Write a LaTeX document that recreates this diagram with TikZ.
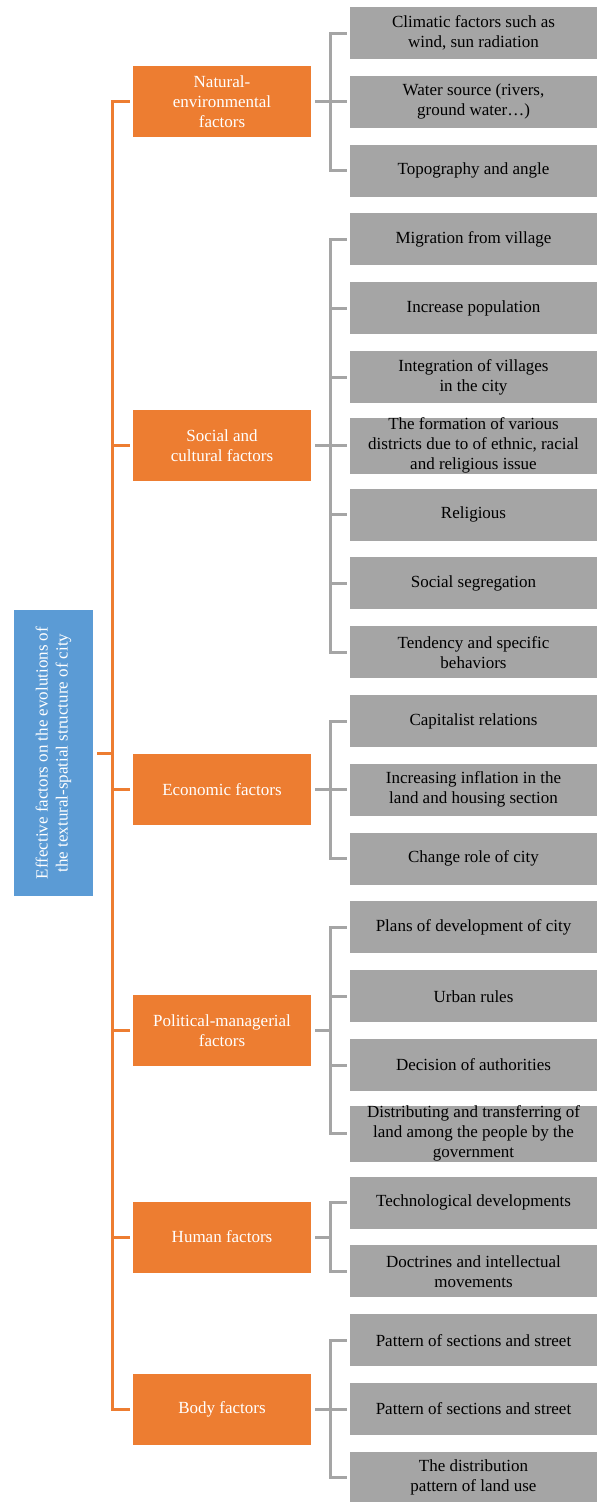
\documentclass[tikz,border=0pt]{standalone}
\usepackage{fontspec}
\setmainfont{Liberation Serif}
\definecolor{rootblue}{HTML}{5B9BD5}
\definecolor{factororange}{HTML}{ED7D31}
\definecolor{itemgray}{HTML}{A5A5A5}
\tikzset{
  boxfont/.style={font=\fontsize{17pt}{20pt}\selectfont},
  rootbox/.style={boxfont, fill=rootblue, text=white, minimum width=286pt, minimum height=79pt, align=center, inner sep=0pt},
  factorbox/.style={boxfont, fill=factororange, text=white, minimum width=178pt, minimum height=71pt, align=center, inner sep=0pt},
  itembox/.style={boxfont, fill=itemgray, text=black, minimum width=247pt, minimum height=52pt, align=center, inner sep=0pt},
  spine/.style={draw=factororange, line width=3pt},
  twig/.style={draw=itemgray, line width=3pt}
}
\begin{document}
\begin{tikzpicture}[x=1pt, y=-1pt]
    \useasboundingbox (0,0) rectangle (597,1502);
    % root
    \node [rootbox, rotate=90] (root) at (53.5,753) {Effective factors on the evolutions of\\the textural-spatial structure of city};
    % factors
    \node [factorbox] (natural) at (222,101.8) {Natural-\\environmental\\factors};
    \node [factorbox] (social) at (222,445.8) {Social and\\cultural factors};
    \node [factorbox] (economic) at (222,789.8) {Economic factors};
    \node [factorbox] (political) at (222,1030.6) {Political-managerial\\factors};
    \node [factorbox] (human) at (222,1237) {Human factors};
    \node [factorbox] (body) at (222,1409) {Body factors};
    % items
    \node [itembox] (nat1) at (473.5,33) {Climatic factors such as\\wind, sun radiation};
    \node [itembox] (nat2) at (473.5,101.8) {Water source (rivers,\\ground water\ldots)};
    \node [itembox] (nat3) at (473.5,170.6) {Topography and angle};
    \node [itembox] (soc1) at (473.5,239.4) {Migration from village};
    \node [itembox] (soc2) at (473.5,308.2) {Increase population};
    \node [itembox] (soc3) at (473.5,377) {Integration of villages\\in the city};
    \node [itembox] (soc4) at (473.5,445.8) {The formation of various\\districts due to of ethnic, racial\\and religious issue};
    \node [itembox] (soc5) at (473.5,514.6) {Religious};
    \node [itembox] (soc6) at (473.5,583.4) {Social segregation};
    \node [itembox] (soc7) at (473.5,652.2) {Tendency and specific\\behaviors};
    \node [itembox] (eco1) at (473.5,721) {Capitalist relations};
    \node [itembox] (eco2) at (473.5,789.8) {Increasing inflation in the\\land and housing section};
    \node [itembox] (eco3) at (473.5,858.6) {Change role of city};
    \node [itembox] (pol1) at (473.5,927.4) {Plans of development of city};
    \node [itembox] (pol2) at (473.5,996.2) {Urban rules};
    \node [itembox] (pol3) at (473.5,1065) {Decision of authorities};
    \node [itembox] (pol4) at (473.5,1133.8) {Distributing and transferring of\\land among the people by the\\government};
    \node [itembox] (hum1) at (473.5,1202.6) {Technological developments};
    \node [itembox] (hum2) at (473.5,1271.4) {Doctrines and intellectual\\movements};
    \node [itembox] (bod1) at (473.5,1340.2) {Pattern of sections and street};
    \node [itembox] (bod2) at (473.5,1409) {Pattern of sections and street};
    \node [itembox] (bod3) at (473.5,1477.8) {The distribution\\pattern of land use};
    % orange spine
    \draw [spine] ([xshift=4pt]root.south) -- ++(16,0);
    \draw [spine] ([xshift=-3pt]natural.west) -- ++(-17,0) |- ([xshift=-3pt]body.west);
    \draw [spine] ([xshift=-3pt]social.west) -- ++(-17,0);
    \draw [spine] ([xshift=-3pt]economic.west) -- ++(-17,0);
    \draw [spine] ([xshift=-3pt]political.west) -- ++(-17,0);
    \draw [spine] ([xshift=-3pt]human.west) -- ++(-17,0);
    % gray braces
    \draw [twig] ([xshift=4pt]natural.east) -- ++(16,0);
    \draw [twig] ([xshift=-3pt]nat1.west) -- ++(-16,0) |- ([xshift=-3pt]nat3.west);
    \draw [twig] ([xshift=-3pt]nat2.west) -- ++(-16,0);
    \draw [twig] ([xshift=4pt]social.east) -- ++(16,0);
    \draw [twig] ([xshift=-3pt]soc1.west) -- ++(-16,0) |- ([xshift=-3pt]soc7.west);
    \draw [twig] ([xshift=-3pt]soc2.west) -- ++(-16,0);
    \draw [twig] ([xshift=-3pt]soc3.west) -- ++(-16,0);
    \draw [twig] ([xshift=-3pt]soc4.west) -- ++(-16,0);
    \draw [twig] ([xshift=-3pt]soc5.west) -- ++(-16,0);
    \draw [twig] ([xshift=-3pt]soc6.west) -- ++(-16,0);
    \draw [twig] ([xshift=4pt]economic.east) -- ++(16,0);
    \draw [twig] ([xshift=-3pt]eco1.west) -- ++(-16,0) |- ([xshift=-3pt]eco3.west);
    \draw [twig] ([xshift=-3pt]eco2.west) -- ++(-16,0);
    \draw [twig] ([xshift=4pt]political.east) -- ++(16,0);
    \draw [twig] ([xshift=-3pt]pol1.west) -- ++(-16,0) |- ([xshift=-3pt]pol4.west);
    \draw [twig] ([xshift=-3pt]pol2.west) -- ++(-16,0);
    \draw [twig] ([xshift=-3pt]pol3.west) -- ++(-16,0);
    \draw [twig] ([xshift=4pt]human.east) -- ++(16,0);
    \draw [twig] ([xshift=-3pt]hum1.west) -- ++(-16,0) |- ([xshift=-3pt]hum2.west);
    \draw [twig] ([xshift=4pt]body.east) -- ++(16,0);
    \draw [twig] ([xshift=-3pt]bod1.west) -- ++(-16,0) |- ([xshift=-3pt]bod3.west);
    \draw [twig] ([xshift=-3pt]bod2.west) -- ++(-16,0);
\end{tikzpicture}
\end{document}
